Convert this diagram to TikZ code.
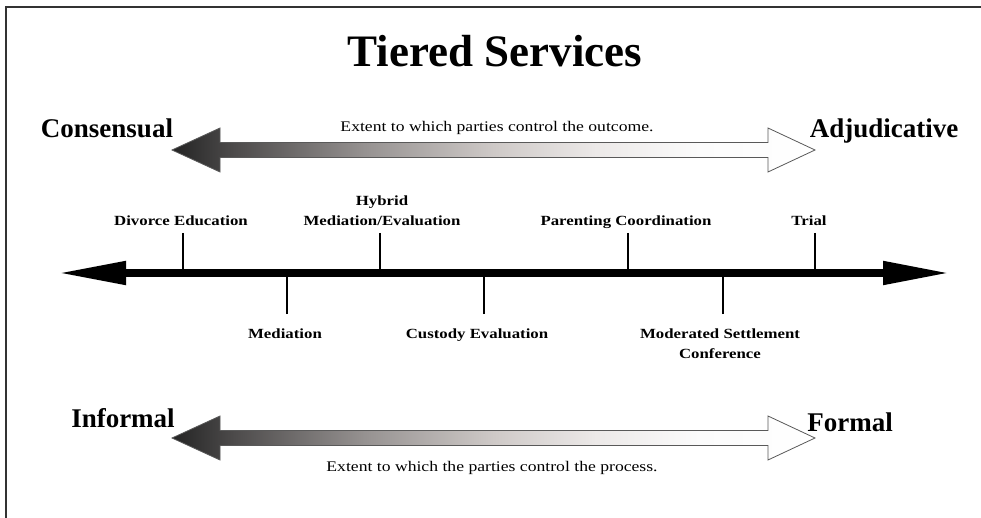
\documentclass[tikz,border=0pt]{standalone}
\usepackage{fontspec}
\setmainfont{Liberation Serif}
\newfontfamily\widefont[FakeStretch=1.2]{Liberation Serif}
\usetikzlibrary{arrows.meta}

% grey-to-white ramp used for the two double-headed scale arrows
\definecolor{rampA}{RGB}{36,36,36}
\definecolor{rampB}{RGB}{78,76,76}
\definecolor{rampC}{RGB}{150,146,145}
\definecolor{rampD}{RGB}{206,201,199}
\definecolor{rampE}{RGB}{236,233,232}
\definecolor{rampF}{RGB}{251,251,251}
\pgfdeclarehorizontalshading{greyramp}{100bp}{
  color(0bp)=(rampA); color(25bp)=(rampA); color(30bp)=(rampB);
  color(40bp)=(rampC); color(50bp)=(rampD); color(58bp)=(rampE);
  color(66bp)=(rampF); color(75bp)=(white); color(100bp)=(white)}

\tikzset{
  heading/.style={font=\fontsize{45}{50}\selectfont\bfseries, inner sep=0pt},
  endlabel/.style={font=\fontsize{27}{30}\selectfont\bfseries, inner sep=0pt},
  caption/.style={font=\widefont\fontsize{14.7}{17}\selectfont, inner sep=0pt},
  service/.style={font=\widefont\fontsize{14}{20}\selectfont\bfseries, inner sep=0pt, align=center},
  tick/.style={line width=2.6pt, black},
  axisline/.style={line width=8pt, black,
    {Triangle[length=68pt,width=22pt]}-{Triangle[length=67pt,width=22pt]}},
  frame/.style={line width=2pt, black!80},
  dblarrow/.pic={
    \shadedraw[draw=black!65, line width=0.8pt, line join=miter, shading=greyramp]
      (0,0) -- (48,-22) -- (48,-7.5) -- (596,-7.5) -- (596,-22) -- (643,0)
      -- (596,22) -- (596,7.5) -- (48,7.5) -- (48,22) -- cycle;
  }
}

\begin{document}
\begin{tikzpicture}[x=1pt, y=-1pt]
  \useasboundingbox (0,0) rectangle (981,518);

  % frame along the top and left edges
  \coordinate (fBL) at (6,518);
  \coordinate (fTL) at (6,7);
  \coordinate (fTR) at (981,7);
  \draw[frame] (fBL) -- (fTL) -- (fTR);

  % title
  \node[heading, anchor=base] (title) at (495,67) {Tiered Services};

  % outcome scale
  \node[endlabel, anchor=base] (consensual) at (107,138) {Consensual};
  \node[endlabel, anchor=base] (adjudicative) at (884,138) {Adjudicative};
  \node[caption, anchor=base] (outcome) at (497,132) {Extent to which parties control the outcome.};
  \pic at (172,150) {dblarrow};

  % main axis
  \coordinate (axL) at (58,273);
  \coordinate (axR) at (950,273);
  \draw[axisline] (axL) -- (axR);

  % services above the axis
  \coordinate (tDE) at (183,233);
  \coordinate (tHY) at (380,233);
  \coordinate (tPC) at (628,233);
  \coordinate (tTR) at (815,233);
  \foreach \t in {tDE,tHY,tPC,tTR} \draw[tick] (\t) -- (\t |- axL);
  \node[service, anchor=base] (divorce) at (181,225.5) {Divorce Education};
  \node[service, anchor=base] (hybrid) at (382,225.5) {Hybrid\\Mediation/Evaluation};
  \node[service, anchor=base] (parenting) at (626,225.5) {Parenting Coordination};
  \node[service, anchor=base] (trial) at (809,225.5) {Trial};

  % services below the axis
  \coordinate (tME) at (287,314);
  \coordinate (tCE) at (484,314);
  \coordinate (tMS) at (723,314);
  \foreach \t in {tME,tCE,tMS} \draw[tick] (\t) -- (\t |- axL);
  \node[service, anchor=base] (mediation) at (285,338) {Mediation};
  \node[service, anchor=base] (custody) at (477,338) {Custody Evaluation};
  \node[service, anchor=base] (settlement) at (720,358) {Moderated Settlement\\Conference};

  % process scale
  \node[endlabel, anchor=base] (informal) at (123,427) {Informal};
  \node[endlabel, anchor=base] (formal) at (850,431) {Formal};
  \pic at (172,438) {dblarrow};
  \node[caption, anchor=base] (process) at (492,471) {Extent to which the parties control the process.};
\end{tikzpicture}
\end{document}
